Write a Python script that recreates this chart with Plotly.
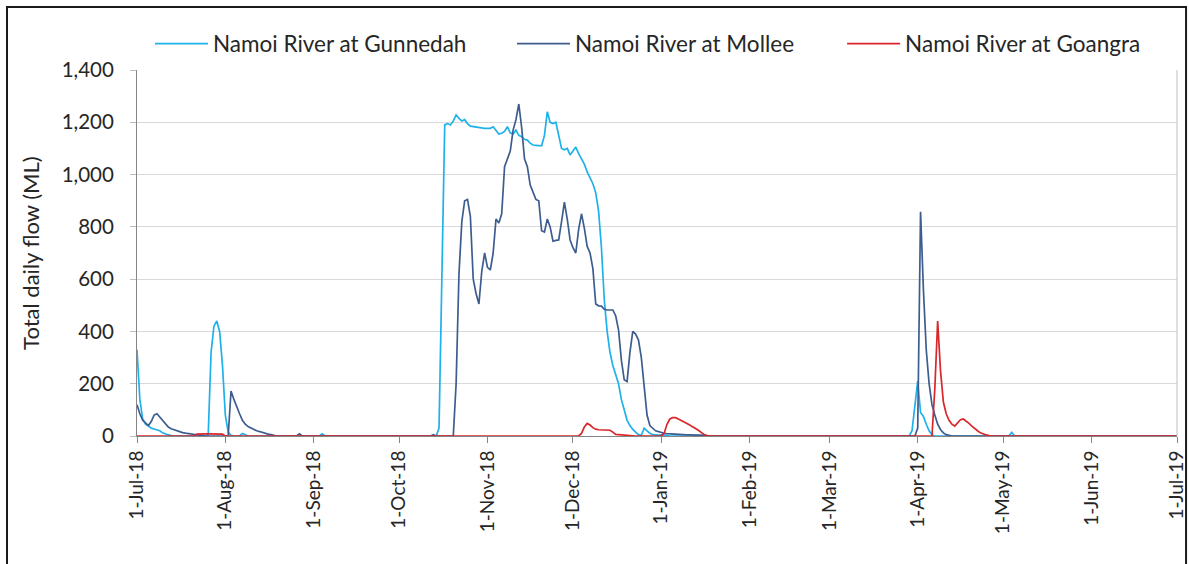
import pandas as pd
import plotly.graph_objects as go

START = "2018-07-01"

# Day offsets from 1-Jul-18 and total daily flow (ML)
gunnedah_days = [0,1,2,3,4,5,6,7,8,9,10,11,12,13,
                 24,25,26,27,28,29,30,31,32,33,34,
                 36,37,38,39,
                 64,65,66,
                 105,106,107,108,109,110,111,112,113,114,115,116,117,118,119,120,121,122,123,124,
                 125,126,127,128,129,130,131,132,133,134,135,136,137,138,139,140,141,142,143,144,
                 145,146,147,148,149,150,151,152,153,154,155,156,157,158,159,160,161,162,163,164,
                 165,166,167,168,169,170,171,172,173,174,175,176,177,178,179,180,181,182,183,184,
                 185,186,187,
                 271,272,273,274,275,276,277,278,279,280,
                 306,307,308,
                 365]
gunnedah_flow = [330,140,65,45,38,30,27,24,20,12,7,4,2,0,
                 0,5,320,420,440,400,270,80,15,3,0,
                 0,10,4,0,
                 0,8,0,
                 0,30,600,1190,1195,1190,1205,1228,1215,1205,1210,1195,1185,1183,1183,1180,1177,1177,1177,1177,
                 1183,1170,1155,1158,1165,1183,1160,1155,1170,1150,1145,1135,1132,1120,1113,1112,1110,1110,1150,1240,
                 1200,1195,1200,1150,1100,1095,1100,1075,1090,1105,1080,1060,1040,1010,985,965,930,860,720,520,
                 400,320,270,230,200,140,100,60,40,25,15,5,3,30,20,10,5,3,3,4,
                 4,2,0,
                 0,20,110,210,90,75,45,20,5,0,
                 0,14,0,
                 0]

mollee_days = [0,1,2,3,4,5,6,7,8,9,10,11,12,13,14,15,16,17,18,19,20,21,22,23,24,
               32,33,34,35,36,37,38,39,40,41,42,43,44,45,46,47,48,49,
               56,57,58,
               103,104,105,
               111,112,113,114,115,116,117,118,119,120,121,122,123,124,125,126,127,128,129,130,
               131,132,133,134,135,136,137,138,139,140,141,142,143,144,145,146,147,148,149,150,
               151,152,153,154,155,156,157,158,159,160,161,162,163,164,165,166,167,168,169,170,
               171,172,173,174,175,176,177,178,179,180,181,182,183,184,185,186,187,188,189,190,
               191,192,193,194,195,196,197,198,199,200,201,
               273,274,275,276,277,278,279,280,281,282,283,284,285,286,
               365]
mollee_flow = [120,85,60,48,40,55,80,85,72,57,45,34,28,24,20,16,13,11,9,7,5,4,3,2,0,
               0,172,140,110,85,60,45,36,30,25,20,17,13,10,7,5,3,0,
               0,8,0,
               0,5,0,
               0,200,620,820,900,905,840,600,545,505,630,700,645,635,700,830,815,850,1030,1060,
               1090,1170,1210,1270,1180,1060,1030,960,935,905,900,785,780,830,800,745,748,750,820,895,
               830,750,720,700,790,850,795,725,700,640,505,498,497,485,482,482,482,460,406,290,
               215,208,320,400,390,367,300,190,80,40,30,20,17,12,10,9,8,7,6,5,
               5,4,4,4,3,3,3,3,3,2,0,
               0,30,858,560,330,200,120,80,45,25,12,5,2,0,
               0]

goangra_days = [0,
                20,21,22,23,24,25,26,27,28,29,30,31,
                155,156,157,158,159,160,161,162,163,164,165,166,167,168,169,170,171,172,173,174,175,
                184,185,186,187,188,189,190,191,192,193,194,195,196,197,198,199,200,201,
                279,280,281,282,283,284,285,286,287,288,289,290,291,292,293,294,295,296,297,298,299,300,
                365]
goangra_flow = [0,
                0,7,8,8,8,8,8,8,8,8,7,0,
                0,10,35,48,42,32,26,24,24,24,24,22,15,6,5,4,4,3,2,1,0,
                0,10,45,65,70,70,65,60,55,48,42,35,30,22,14,6,2,0,
                0,180,440,250,130,85,60,45,38,50,62,65,58,48,38,28,20,12,7,4,2,0,
                0]

series_names = ["Namoi River at Gunnedah", "Namoi River at Mollee", "Namoi River at Goangra"]
series_colors = ["#1FB1EA", "#3D5D8F", "#D9262B"]

tick_dates = ["2018-07-01", "2018-08-01", "2018-09-01", "2018-10-01", "2018-11-01", "2018-12-01",
              "2019-01-01", "2019-02-01", "2019-03-01", "2019-04-01", "2019-05-01", "2019-06-01",
              "2019-07-01"]
tick_labels = ["1-Jul-18", "1-Aug-18", "1-Sep-18", "1-Oct-18", "1-Nov-18", "1-Dec-18",
               "1-Jan-19", "1-Feb-19", "1-Mar-19", "1-Apr-19", "1-May-19", "1-Jun-19",
               "1-Jul-19"]
y_ticks = [0, 200, 400, 600, 800, 1000, 1200, 1400]


def to_dates(days):
    return pd.to_datetime(START) + pd.to_timedelta(days, unit="D")


FONT = "Lato"
TEXT = "#262626"
legend_ids = ["legend", "legend2", "legend3"]
legend_x = [0.0125, 0.3606, 0.678]

fig = go.Figure()
for name, color, days, flow, lid in zip(series_names, series_colors,
                                        [gunnedah_days, mollee_days, goangra_days],
                                        [gunnedah_flow, mollee_flow, goangra_flow],
                                        legend_ids):
    fig.add_trace(go.Scatter(x=to_dates(days), y=flow, mode="lines", name=name,
                             line=dict(color=color, width=1.7), legend=lid))

legend_style = dict(orientation="h", y=1.071, xanchor="left", yanchor="middle",
                    font=dict(family=FONT, size=22.5, color=TEXT), itemwidth=53,
                    bgcolor="rgba(0,0,0,0)")
legends = {lid: dict(x=lx, **legend_style) for lid, lx in zip(legend_ids, legend_x)}

fig.update_layout(
    width=1189, height=564,
    margin=dict(l=137, r=12, t=70, b=128, autoexpand=False),
    paper_bgcolor="white", plot_bgcolor="white",
    font=dict(family=FONT, size=18, color=TEXT),
    showlegend=True,
    xaxis=dict(type="date", range=[tick_dates[0], tick_dates[-1]], automargin=False,
               tickmode="array", tickvals=tick_dates, ticktext=tick_labels,
               tickangle=-90, ticks="outside", ticklen=6, tickcolor="#868686",
               showgrid=False, showline=True, linecolor="#868686", linewidth=1,
               tickfont=dict(family=FONT, size=19, color=TEXT), zeroline=False),
    yaxis=dict(range=[0, 1400], tickmode="array", tickvals=y_ticks, tickformat=",",
               automargin=False, ticks="outside", ticklen=6, tickcolor="#BFBFBF",
               ticklabelstandoff=12,
               showgrid=True, gridcolor="#D9D9D9", gridwidth=1,
               showline=True, linecolor="#868686", linewidth=1, zeroline=False,
               tickfont=dict(family=FONT, size=20.5, color=TEXT)),
    annotations=[dict(text="Total daily flow (ML)", xref="paper", yref="paper",
                      x=-0.103, y=0.5, xanchor="center", yanchor="middle",
                      textangle=-90, showarrow=False,
                      font=dict(family=FONT, size=22, color=TEXT))],
    shapes=[
        dict(type="line", xref="paper", yref="paper", x0=1, x1=1, y0=0, y1=1,
             line=dict(color="#BFBFBF", width=1)),
        dict(type="rect", xref="paper", yref="paper", x0=-0.125, x1=1.0087, y0=-0.5, y1=1.172,
             line=dict(color="#1a1a1a", width=2), fillcolor="rgba(0,0,0,0)", layer="below"),
    ],
    **legends,
)

fig.write_html("out.html", config={"displayModeBar": False},
               post_script="document.body.style.margin='0';document.body.style.padding='0';")
